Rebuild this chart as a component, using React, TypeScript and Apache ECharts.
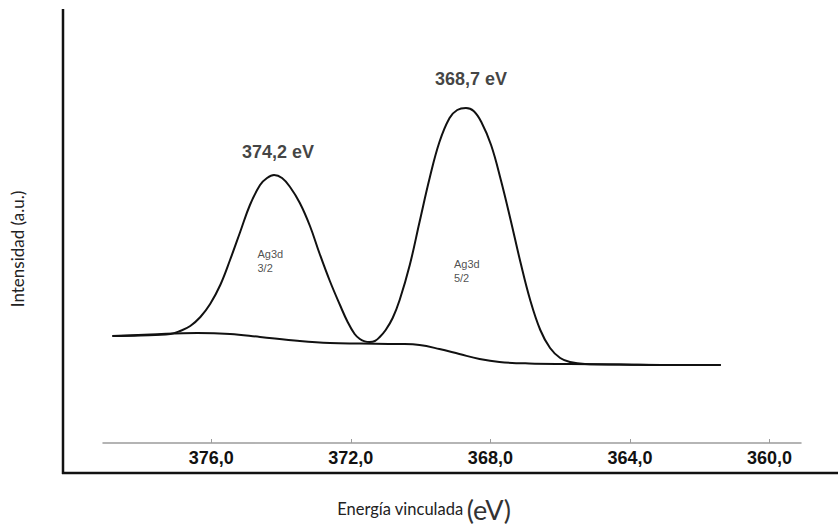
import { useEffect, useRef } from "react";
import * as echarts from "echarts";

// Ag 3d photoelectron spectrum: binding energy (eV) vs. intensity (a.u.)
const spectrumEnergy = [
  378.83, 378.03, 377.17, 376.89, 376.6, 376.31, 376.03, 375.74, 375.46, 375.17,
  374.89, 374.6, 374.4, 374.2, 373.97, 373.74, 373.46, 373.17, 372.89, 372.6,
  372.31, 372.09, 371.89, 371.74, 371.6, 371.46, 371.31, 371.17, 371.0, 370.8,
  370.6, 370.31, 370.03, 369.74, 369.46, 369.17, 368.95, 368.7, 368.48, 368.26,
  367.98, 367.7, 367.42, 367.14, 366.86, 366.57, 366.29, 366.0, 365.72, 365.29,
  364.31, 362.6, 361.4,
];
const spectrumIntensity = [
  26.75, 26.88, 27.25, 28.0, 29.25, 31.5, 34.75, 39.5, 45.75, 52.75,
  59.5, 64.5, 66.25, 67.0, 66.25, 64.0, 60.0, 54.25, 47.25, 40.5,
  34.5, 30.25, 27.25, 26.0, 25.4, 25.25, 25.5, 26.5, 28.25, 31.25,
  35.75, 44.5, 55.25, 66.25, 75.25, 81.25, 83.25, 83.75, 83.0, 80.25,
  74.5, 65.75, 55.75, 45.25, 35.75, 28.25, 23.75, 21.25, 20.25, 19.75,
  19.63, 19.5, 19.5,
];

// Shirley-type background under the doublet
const backgroundEnergy = [
  378.83, 377.74, 376.4, 375.46, 374.6, 373.46, 372.6, 371.74, 370.6, 370.03,
  369.46, 368.89, 368.31, 367.74, 366.89, 365.74, 364.31, 362.6, 361.4,
];
const backgroundIntensity = [
  26.75, 27.13, 27.5, 27.25, 26.5, 25.5, 25.0, 24.88, 24.75, 24.5,
  23.5, 22.25, 21.0, 20.25, 19.88, 19.75, 19.63, 19.5, 19.5,
];

// Peak maxima (eV) and the spin-orbit components they belong to
const peakEnergies = [374.2, 368.7];
const componentNames = ["Ag3d\n3/2", "Ag3d\n5/2"];
const componentAnchorEnergy = [374.66, 369.03];
const componentAnchorIntensity = [45.5, 43.0];

const energyTicks = [376, 372, 368, 364, 360];

const fmt = (v: number) => v.toFixed(1).replace(".", ",");

export default function App() {
  const ref = useRef<HTMLDivElement>(null);

  useEffect(() => {
    const chart = echarts.init(ref.current!, null, { renderer: "svg" });

    const spectrum = spectrumEnergy.map((e, i) => [e, spectrumIntensity[i]]);
    const background = backgroundEnergy.map((e, i) => [e, backgroundIntensity[i]]);

    const peakItems = peakEnergies.map((e, i) => {
      const idx = spectrumEnergy.indexOf(e);
      return {
        value: [e, spectrumIntensity[idx], fmt(e) + " eV"],
        label: i === 0 ? { distance: 14, offset: [4, 0] } : { distance: 20, offset: [5, 0] },
      };
    });

    const componentItems = componentNames.map((n, i) => ({
      value: [componentAnchorEnergy[i], componentAnchorIntensity[i], n],
    }));

    chart.setOption({
      animation: false,
      backgroundColor: "#ffffff",
      grid: { left: 103, right: 37, top: 43, bottom: 81, containLabel: false },
      xAxis: {
        type: "value",
        inverse: true,
        min: 359.1,
        max: 379.1,
        axisLine: { show: true, lineStyle: { color: "#9c9c9c", width: 1.5 } },
        axisTick: {
          show: true,
          customValues: energyTicks,
          inside: true,
          length: 4,
          lineStyle: { color: "#9c9c9c", width: 1 },
        },
        axisLabel: {
          customValues: energyTicks,
          formatter: (v: number) => fmt(v),
          color: "#111",
          fontFamily: "Liberation Sans, Arial, sans-serif",
          fontWeight: "bold",
          fontSize: 18,
          margin: 6,
        },
        splitLine: { show: false },
      },
      yAxis: {
        type: "value",
        min: 0,
        max: 100,
        show: false,
      },
      series: [
        {
          type: "line",
          data: background,
          smooth: 0.4,
          symbol: "none",
          lineStyle: { color: "#111", width: 2 },
          z: 2,
        },
        {
          type: "line",
          data: spectrum,
          smooth: 0.4,
          symbol: "none",
          lineStyle: { color: "#111", width: 2 },
          z: 3,
        },
        {
          type: "scatter",
          data: peakItems,
          symbolSize: 1,
          itemStyle: { color: "transparent" },
          label: {
            show: true,
            position: "top",
            formatter: (p: any) => p.value[2],
            color: "#111",
            fontFamily: "Liberation Sans, Arial, sans-serif",
            fontWeight: "bold",
            fontSize: 18,
          },
          z: 4,
        },
        {
          type: "scatter",
          data: componentItems,
          symbolSize: 1,
          itemStyle: { color: "transparent" },
          label: {
            show: true,
            position: [0, 0],
            align: "left",
            verticalAlign: "middle",
            formatter: (p: any) => p.value[2],
            color: "#222",
            fontFamily: "Liberation Sans, Arial, sans-serif",
            fontSize: 11,
            lineHeight: 14,
          },
          z: 4,
        },
      ],
      graphic: [
        {
          type: "line",
          shape: { x1: 63, y1: 9, x2: 63, y2: 474 },
          style: { stroke: "#111", lineWidth: 2.5 },
        },
        {
          type: "line",
          shape: { x1: 62, y1: 473, x2: 838, y2: 473 },
          style: { stroke: "#111", lineWidth: 2.5 },
        },
        {
          type: "text",
          x: 17,
          y: 249,
          rotation: Math.PI / 2,
          style: {
            text: "Intensidad (a.u.)",
            fill: "#222",
            font: "17px Lato, sans-serif",
            align: "center",
            verticalAlign: "middle",
          },
        },
        {
          type: "text",
          x: 424,
          y: 509,
          style: {
            text: "{a|Energía vinculada} {b|(eV)}",
            align: "center",
            verticalAlign: "middle",
            rich: {
              a: { fontFamily: "Lato, sans-serif", fontSize: 16.5, fill: "#222" },
              b: { fontFamily: "Lato, sans-serif", fontSize: 27, fill: "#333" },
            },
          },
        },
      ],
    });

    return () => chart.dispose();
  }, []);

  return (
    <div
      ref={ref}
      style={{ position: "absolute", left: 0, top: 0, width: 838, height: 524, background: "#fff" }}
    />
  );
}
